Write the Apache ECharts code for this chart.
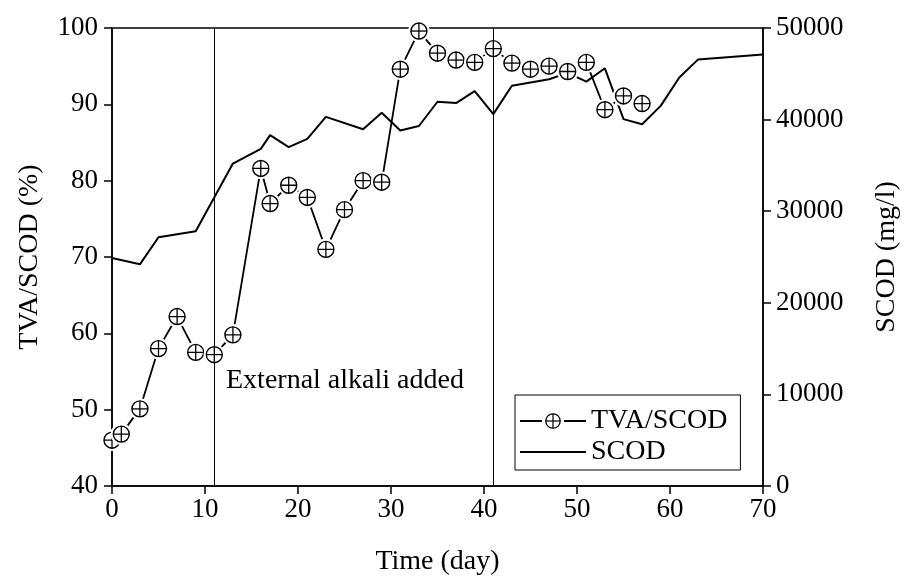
<!DOCTYPE html>
<html><head><meta charset="utf-8">
<script src="https://cdn.jsdelivr.net/npm/echarts@6/dist/echarts.min.js"></script>
<style>html,body{margin:0;padding:0;background:#fff}#c{width:906px;height:581px}</style>
</head><body><div id="c"></div>
<script>
// TVA/SCOD (%) vs day
const tvaDays = [0,1,3,5,7,9,11,13,16,17,19,21,23,25,27,29,31,33,35,37,39,41,43,45,47,49,51,53,55,57];
const tvaValues = [46,46.8,50.1,58,62.2,57.5,57.2,59.8,81.6,77,79.4,77.8,71,76.2,80,79.8,94.6,99.6,96.7,95.8,95.5,97.3,95.4,94.6,95,94.3,95.5,89.3,91.1,90.1];
// SCOD (mg/l) vs day
const scodDays = [0,3,5,9,13,16,17,19,21,23,27,29,31,33,35,37,39,41,43,47,49,51,53,55,57,59,61,63,70];
const scodValues = [24900,24200,27150,27800,35200,36800,38300,37000,37900,40300,38950,40750,38800,39300,41950,41800,43100,40600,43700,44400,45100,44150,45600,40050,39500,41500,44600,46550,47100];
const eventDays = [11,41];
const xTicks = {min:0,max:70,interval:10};
const leftTicks = {min:40,max:100,interval:10};
const rightTicks = {min:0,max:50000,interval:10000};

const font = 'Liberation Serif';
const svg = s => 'image://data:image/svg+xml;utf8,' + encodeURIComponent(s);
const sym = svg('<svg xmlns="http://www.w3.org/2000/svg" width="44" height="44" viewBox="0 0 44 44"><circle cx="22" cy="22" r="21.5" fill="white"/><circle cx="22" cy="22" r="16" fill="white" stroke="black" stroke-width="2.8"/><line x1="22" y1="6" x2="22" y2="38" stroke="black" stroke-width="2.6"/><line x1="6" y1="22" x2="38" y2="22" stroke="black" stroke-width="2.6"/></svg>');
const legIcon = svg('<svg xmlns="http://www.w3.org/2000/svg" width="66" height="20" viewBox="0 0 66 20"><line x1="0" y1="10" x2="22" y2="10" stroke="black" stroke-width="2"/><line x1="44" y1="10" x2="66" y2="10" stroke="black" stroke-width="2"/><circle cx="33" cy="10" r="7.2" fill="white" stroke="black" stroke-width="1.3"/><line x1="33" y1="2.8" x2="33" y2="17.2" stroke="black" stroke-width="1.2"/><line x1="25.8" y1="10" x2="40.2" y2="10" stroke="black" stroke-width="1.2"/></svg>');

const chart = echarts.init(document.getElementById('c'));
const tickText = {color:'#000', fontFamily:font, fontSize:27};
const nameText = {color:'#000', fontFamily:font, fontSize:28};
chart.setOption({
  animation:false,
  backgroundColor:'#fff',
  grid:{left:112,right:143,top:28,bottom:95,outerBoundsMode:'none',containLabel:false,show:true,borderColor:'#000',borderWidth:1.5,backgroundColor:'transparent'},
  legend:{
    left:515, top:395, orient:'vertical', itemWidth:66, itemHeight:20, itemGap:3,
    padding:[12,13,4,5], borderColor:'#000', borderWidth:1, backgroundColor:'#fff',
    textStyle:{color:'#000',fontFamily:font,fontSize:28,lineHeight:28},
    data:[{name:'TVA/SCOD',icon:legIcon},{name:'SCOD',icon:'path://M0,0 L66,0 L66,2 L0,2 Z'}]
  },
  xAxis:{type:'value',min:xTicks.min,max:xTicks.max,interval:xTicks.interval,
    name:'Time (day)',nameLocation:'middle',nameGap:62,nameTextStyle:nameText,
    axisLine:{lineStyle:{color:'#000',width:1.5}},axisTick:{inside:false,length:8,lineStyle:{color:'#000',width:1.5}},
    axisLabel:Object.assign({margin:10},tickText),splitLine:{show:false}},
  yAxis:[
    {type:'value',min:leftTicks.min,max:leftTicks.max,interval:leftTicks.interval,position:'left',
     name:'TVA/SCOD (%)',nameLocation:'middle',nameRotate:90,nameGap:68,nameTextStyle:nameText,
     axisLine:{show:true,lineStyle:{color:'#000',width:1.5}},axisTick:{show:true,length:8,lineStyle:{color:'#000',width:1.5}},
     axisLabel:Object.assign({margin:14},tickText),splitLine:{show:false}},
    {type:'value',min:rightTicks.min,max:rightTicks.max,interval:rightTicks.interval,position:'right',
     name:'SCOD (mg/l)',nameLocation:'middle',nameRotate:90,nameGap:110,nameTextStyle:nameText,
     axisLine:{show:true,lineStyle:{color:'#000',width:1.5}},axisTick:{show:true,length:8,lineStyle:{color:'#000',width:1.5}},
     axisLabel:Object.assign({margin:13,formatter:v=>String(v)},tickText),splitLine:{show:false}}
  ],
  series:[
    {name:'TVA/SCOD',type:'line',yAxisIndex:0,data:tvaDays.map((d,i)=>[d,tvaValues[i]]),
     symbol:sym,symbolSize:22,showAllSymbol:true,clip:false,
     lineStyle:{color:'#000',width:1.8},itemStyle:{color:'#000'},z:3,
     markLine:{silent:true,symbol:['none','none'],label:{show:false},
       lineStyle:{color:'#000',width:1,type:'solid'},data:eventDays.map(d=>({xAxis:d}))}},
    {name:'SCOD',type:'line',yAxisIndex:1,data:scodDays.map((d,i)=>[d,scodValues[i]]),
     symbol:'none',lineStyle:{color:'#000',width:2},itemStyle:{color:'#000'},z:2}
  ],
  graphic:[{type:'text',left:226,top:367,style:{text:'External alkali added',fill:'#000',font:'28px "Liberation Serif"'}}]
});
</script></body></html>
